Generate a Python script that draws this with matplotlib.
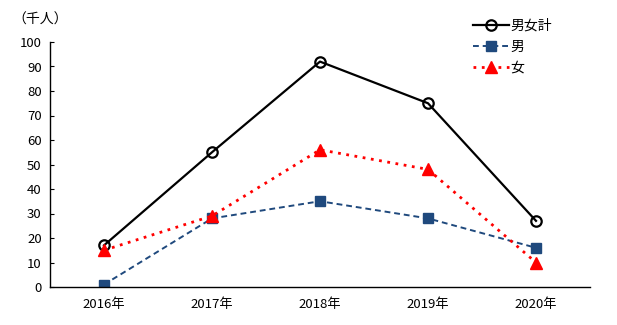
import matplotlib
matplotlib.use("Agg")
import matplotlib.pyplot as plt

plt.rcParams['font.family'] = ['Noto Sans CJK JP', 'DejaVu Sans']

years = ["2016年", "2017年", "2018年", "2019年", "2020年"]
total = [17, 55, 92, 75, 27]
male = [1, 28, 35, 28, 16]
female = [15, 29, 56, 48, 10]

fig = plt.figure(figsize=(6.17, 3.25), dpi=100)
ax = fig.add_axes([50 / 617, 38 / 325, 540 / 617, 245 / 325])

x = range(len(years))
ax.plot(x, total, color="black", lw=1.6, marker="o", ms=7.5,
        mfc="none", mec="black", mew=1.6, label="男女計")
ax.plot(x, male, color="#1f497d", lw=1.4, ls=(0, (3, 2)), marker="s", ms=7,
        mfc="#1f497d", mec="#1f497d", label="男")
ax.plot(x, female, color="red", lw=2, ls=(0, (1, 2)), marker="^", ms=8,
        mfc="red", mec="red", label="女")

ax.set_xlim(-0.5, len(years) - 0.5)
ax.set_ylim(0, 100)
ax.set_yticks(range(0, 101, 10))
ax.set_xticks(list(x))
ax.set_xticklabels(years)
ax.tick_params(axis="y", direction="in", length=3, labelsize=9.5, pad=6)
ax.tick_params(axis="x", length=0, labelsize=9.5, pad=8)
for side in ["top", "right"]:
    ax.spines[side].set_visible(False)
ax.spines["left"].set_linewidth(1)
ax.spines["bottom"].set_linewidth(1)

fig.text(12 / 617, 1 - 20 / 325, "（千人）", fontsize=10, va="center", ha="left")

ax.legend(loc="upper left", bbox_to_anchor=(460 / 617, 1 - 6 / 325),
          bbox_transform=fig.transFigure, frameon=False, fontsize=10,
          handlelength=2.6, handletextpad=0.15, labelspacing=0.5)

fig.savefig("out.png", dpi=100)
